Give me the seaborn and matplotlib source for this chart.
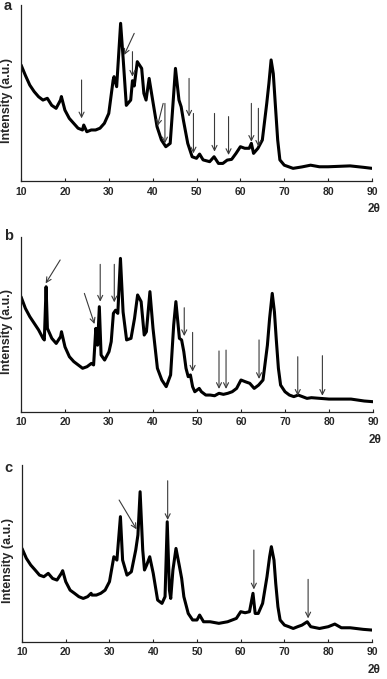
import matplotlib
matplotlib.use('Agg')
import matplotlib.pyplot as plt
import seaborn as sns
import pandas as pd

# 2-theta / intensity readings for the three patterns
tt_a = [10, 11, 12, 13, 14, 15, 16, 17, 18, 19, 19.2, 20, 21, 22, 23, 24, 24.3, 25, 26, 27, 28, 29, 30,
        31, 31.2, 31.8, 32.7, 33.3, 34, 35, 35.4, 35.8, 36.5, 37.5, 38, 38.5, 39.2, 40, 41, 42, 43, 44,
        44.7, 45.2, 46, 46.5, 47, 48, 49, 50, 50.7, 51.5, 53, 54, 55, 56, 57, 58, 59, 60, 61, 62, 62.5,
        63, 64, 65, 66, 66.5, 67, 67.5, 68, 68.5, 69, 70, 71, 72, 74, 76, 78, 80, 82, 85, 88, 90]
int_a = [66, 60, 54.5, 50.8, 47.9, 46, 47, 43, 41.3, 46, 48, 40.3, 35.6, 32.8, 30, 29, 31.8, 28, 29, 29, 30, 32.8, 38.4,
         57.4, 59.3, 53.6, 89.6, 68.8, 43, 46, 57, 54, 67.8, 64, 49.8, 46, 58.3, 46, 30.9, 23.3, 19.5, 21.4,
         46, 64, 46, 42.2, 34.7, 21.4, 13.8, 12.9, 15.3, 12, 11, 13.8, 10, 10, 11.9, 12.3, 15.7, 19.5, 18.6, 18.6, 21.4,
         15.7, 18.6, 23.3, 44, 55.5, 68.8, 61, 42, 23.3, 12, 9, 8.1, 7.2, 8, 9, 8.1, 8.1, 8.3, 8.6, 7.8, 7.2]

tt_b = [10, 11, 12, 13, 14, 15, 15.3, 15.7, 16, 17, 18, 19, 19.2, 20, 21, 22, 23, 24, 25, 26, 26.5, 27,
        27.4, 27.8, 28.2, 29, 30, 30.5, 31, 31.5, 32, 32.6, 33.2, 34, 35, 35.8, 36.5, 37.3, 38, 38.5, 39.3,
        40, 41, 42, 43, 44, 44.7, 45.2, 46, 46.5, 47, 47.5, 48, 48.5, 49, 49.5, 50.5, 51, 52, 53, 54, 55,
        56, 57, 58, 59, 60, 61, 62, 63, 64, 65, 66, 66.5, 67.1, 67.6, 68, 68.5, 69, 70, 71, 72, 73, 75,
        76, 78, 80, 85, 88, 90]
int_b = [65.7, 59, 54.3, 50.5, 46.7, 41.9, 41, 71.4, 47.6, 41.9, 39, 42.9, 45.7, 37, 31.4, 28.6, 26.7, 24.8, 25.7, 27.6, 26.7, 47.6,
         38, 60, 32.4, 29.5, 34.3, 40, 56.2, 58, 56.2, 87.6, 57, 41, 41.9, 53.3, 66.7, 62.9, 43.8, 45.7, 68.6,
         47.6, 24.8, 18.1, 14.3, 21, 49.5, 62.9, 41.9, 41, 34.3, 24.8, 20, 21, 14.3, 11.4, 13.3, 11.4, 9.5, 9.5, 9.1, 10.5,
         9.9, 10.5, 11.4, 13.3, 18.1, 17.1, 16.2, 13.3, 15.2, 18.1, 38, 53.3, 67.6, 57, 41.9, 24.8, 15.2, 11.4, 9.5, 8.6, 9.5, 7.6,
         8, 7.6, 7.2, 7.2, 6.1, 5.7]

tt_c = [10, 11, 12, 13, 14, 15, 16, 17, 18, 19, 19.3, 20, 21, 22, 23, 24, 25, 25.8, 26, 27, 28, 29, 30,
        31, 31.7, 32.5, 33, 34, 35, 36, 36.5, 37, 37.6, 38, 38.5, 39.2, 40, 41, 42, 42.7, 43.2, 43.7, 44,
        44.5, 45.2, 46, 46.5, 47, 48, 49, 50, 50.6, 51.5, 53, 55, 57, 59, 60, 61, 62, 62.8, 63.3, 64, 65,
        66, 66.6, 67, 67.6, 68, 68.5, 69, 70, 71, 72, 73, 74, 75.2, 76, 78, 80, 81.5, 83, 85, 88, 90]
int_c = [52.8, 47.2, 43.4, 40.6, 37.7, 36.8, 38.7, 35.8, 34.9, 38.7, 40.2, 34, 29.2, 27.4, 25.5, 24.5, 25.5, 27.4, 26.4, 26.4, 27.4, 29.2, 34,
         48.1, 46.2, 70.8, 46.2, 37.7, 39.6, 51.9, 60.4, 84.9, 51.9, 40.6, 43.4, 48.1, 38.7, 23.6, 21.7, 25.5, 67.9, 29.2, 24.5,
         40.6, 52.8, 42.5, 35.8, 25.5, 16, 12.3, 12.3, 15.1, 11.3, 11.3, 10.4, 11.3, 13.2, 17, 16.4, 17, 27.4, 16, 16, 21.7,
         36.8, 48.1, 53.8, 46.2, 33, 19.8, 12.3, 9.4, 8.5, 7.5, 8.5, 9.4, 11.3, 8.5, 7.5, 8.5, 10, 7.9, 7.9, 7, 6.6]

# arrows: (tail 2theta, tail intensity, head 2theta, head intensity)
arrows_a = [(23.8, 57.4, 23.8, 35.6), (35.8, 83.9, 33.5, 71.6), (35.4, 73.5, 35.4, 59.3),
            (42.4, 44.1, 41.1, 31.3), (42.8, 44.1, 42.8, 21.4), (48.3, 58.3, 48.3, 36.6),
            (49.3, 38.4, 49.3, 15.7), (54.1, 38.4, 54.1, 16.7), (57.3, 36.6, 57.3, 14.8),
            (62.5, 44.1, 62.5, 22.3), (64.1, 41.3, 64.1, 19.5)]
arrows_b = [(18.9, 86.7, 15.6, 73.3), (24.4, 67.6, 26.7, 50.1), (28.0, 84.2, 28.0, 62.9),
            (31.2, 84.2, 31.2, 62.5), (47.1, 59.4, 47.1, 43.2), (49.0, 45.3, 49.0, 22.9),
            (55.0, 34.7, 55.0, 13.0), (56.6, 35.2, 56.6, 13.0), (64.1, 41.0, 64.1, 18.7),
            (72.9, 31.4, 72.9, 9.1), (78.5, 32.0, 78.5, 9.1)]
arrows_c = [(32.2, 80.2, 36.2, 63.6), (43.3, 91.1, 43.3, 68.9), (63.0, 51.9, 63.0, 29.6),
            (75.4, 35.3, 75.4, 13.2)]

panels = ['a', 'b', 'c']
xticks = [10, 20, 30, 40, 50, 60, 70, 80, 90]

sns.set_style('white')
plt.rcParams['font.family'] = ['Liberation Sans', 'DejaVu Sans']

fig = plt.figure(figsize=(3.87, 6.79), dpi=100)
boxes = [[0.0543, 0.7334, 0.907, 0.2592],
         [0.0543, 0.3937, 0.9095, 0.2577],
         [0.0568, 0.0549, 0.9044, 0.2602]]
letter_y = [0.972, 0.981, 0.96]

data = [(tt_a, int_a, arrows_a), (tt_b, int_b, arrows_b), (tt_c, int_c, arrows_c)]

for box, label, ly, (tt, inten, arrs) in zip(boxes, panels, letter_y, data):
    ax = fig.add_axes(box)
    df = pd.DataFrame({'tt': tt, 'I': inten})
    sns.lineplot(data=df, x='tt', y='I', ax=ax, color='black', lw=2.2)
    for x0, y0, x1, y1 in arrs:
        ax.annotate('', xy=(x1, y1), xytext=(x0, y0),
                    arrowprops=dict(arrowstyle='->', color='#3a3a3a', lw=0.8,
                                    mutation_scale=9, shrinkA=0, shrinkB=0))
    ax.set_xlim(10, 90)
    ax.set_ylim(0, 100)
    ax.set_xticks(xticks)
    ax.set_yticks([])
    ax.set_xlabel('')
    ax.set_ylabel('Intensity (a.u.)', fontsize=9, fontweight='bold')
    ax.yaxis.set_label_coords(-0.024, 0.46)
    ax.spines['right'].set_visible(False)
    ax.spines['top'].set_visible(False)
    for s in ['left', 'bottom']:
        ax.spines[s].set_color('#222222')
        ax.spines[s].set_linewidth(0.9)
    ax.tick_params(axis='x', direction='in', length=2.5, width=0.8, pad=4,
                   labelsize=7.5, bottom=True)
    for t in ax.get_xticklabels():
        t.set_fontweight('bold')
    ax.text(-0.049, ly, label, transform=ax.transAxes, fontsize=10.5,
            fontweight='bold', ha='left', va='baseline')
    ax.text(1.005, -0.16, '2θ', transform=ax.transAxes, fontsize=8.5,
            fontweight='bold', ha='center', va='center')

fig.savefig('out.png', dpi=100)
